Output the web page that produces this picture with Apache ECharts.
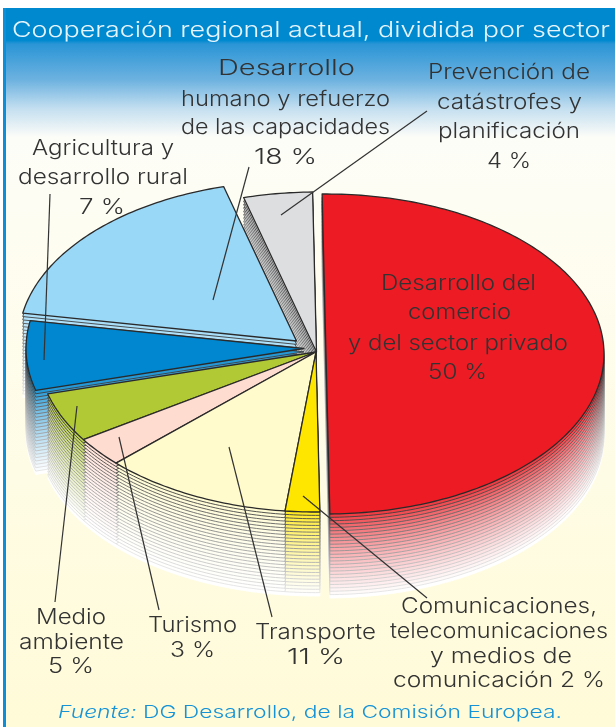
<!DOCTYPE html>
<html><head><meta charset="utf-8">
<style>html,body{margin:0;padding:0;background:#fff}#c{width:615px;height:727px}</style>
<script src="https://cdn.jsdelivr.net/npm/echarts@6/dist/echarts.min.js"></script>
</head><body><div id="c"></div>
<script>
// ---- data ----
const categories = ['Desarrollo del comercio y del sector privado','Comunicaciones, telecomunicaciones y medios de comunicación','Transporte','Turismo','Medio ambiente','Agricultura y desarrollo rural','Desarrollo humano y refuerzo de las capacidades','Prevención de catástrofes y planificación'];
const values = [50,2,11,3,5,7,18,4];
const titleText = 'Cooperación regional actual, dividida por sector';
const sourceItalic = 'Fuente:';
const sourceRest = ' DG Desarrollo, de la Comisión Europea.';

// ---- styles & layout ----
const colors = ['#ed1c24','#ffe600','#fffbcc','#ffdcd0','#b1c935','#0087cf','#9ad8f8','#dcdee0'];
const explode = [[10,2],[0,0],[0,0],[0,0],[0,0],[-12,-3.5],[-19.5,-11],[0.5,0]];
const drawOrder = [7,6,5,4,3,2,1,0];
const PIE = {cx:316,cy:352,rx:278,ry:160,start:-0.8,depth:84,layers:25};
const INK = '#333333', FONT = 'Inter', WEIGHT = '300';
const labelLines = [
 ['Desarrollo del','comercio','y del sector privado','50 %'],
 ['Comunicaciones,','telecomunicaciones','y medios de','comunicación 2 %'],
 ['Transporte','11 %'],
 ['Turismo','3 %'],
 ['Medio','ambiente','5 %'],
 ['Agricultura y','desarrollo rural','7 %'],
 ['Desarrollo','humano y refuerzo','de las capacidades','18 %'],
 ['Prevención de','catástrofes y','planificación','4 %']
];
const labelBoxes = [
 [[381,536,283],[408,511,312],[348,568,343],[428,487,372]],
 [[401,597,606],[390,608,631],[430,572,656],[393,605,680]],
 [[255,376,632],[287,345,657]],
 [[148,237,625],[170,215,650]],
 [[36,106,617],[19,124,642],[48,94,666]],
 [[32,174,148],[18,188,177],[79,125,207]],
 [[218,355,68],[181,390,99],[181,390,127],[254,317,157]],
 [[428,590,72],[437,582,102],[438,580,131],[487,531,161]]
];
const leaders = [
 null,
 [303,496,427,598],[229,447,272,617],[119,437,159,610],[77,406,55,602],
 [44,360,50,194],[213,300,249,167],[281,215,427,111]
];

// ---- helpers ----
const hex = c => [1,3,5].map(i=>parseInt(c.substr(i,2),16));
const mix = (a,b,t)=>{const A=hex(a),B=hex(b);return 'rgb('+A.map((v,i)=>Math.round(v+(B[i]-v)*t)).join(',')+')';};
const measureCtx = document.createElement('canvas').getContext('2d');
function fit(text,width,size){measureCtx.font=WEIGHT+' '+size+'px '+FONT;return width/measureCtx.measureText(text).width;}
function textEl(text,x0,x1,cy,size,fill){
  return {type:'text',z:100,x:(x0+x1)/2,y:cy+1,scaleX:fit(text,x1-x0,size),silent:true,
    style:{text:text,x:0,y:0,align:'center',verticalAlign:'middle',font:WEIGHT+' '+size+'px '+FONT,fill:fill}};
}
const total = values.reduce((a,b)=>a+b,0);
let acc = 0;
const starts = values.map(v=>{const s=acc;acc+=v;return s;});
function wedge(c,a0,a1,dy){
  const pts=[[PIE.cx+c[0],PIE.cy+c[1]+dy]];
  const n=Math.max(2,Math.ceil(a1-a0));
  for(let i=0;i<=n;i++){const a=(a0+(a1-a0)*i/n)*Math.PI/180;
    pts.push([PIE.cx+c[0]+PIE.rx*Math.sin(a),PIE.cy+c[1]+dy-PIE.ry*Math.cos(a)]);}
  return pts;
}

const seriesData = drawOrder.map(i=>({name:categories[i],value:[values[i],starts[i],i]}));
function renderItem(params,api){
  const v=api.value(0),s=api.value(1),idx=api.value(2);
  const a0=PIE.start+s/total*360,a1=a0+v/total*360,children=[];
  for(let l=PIE.layers;l>=0;l--){
    const t=l/PIE.layers;
    children.push({type:'polygon',silent:true,
      shape:{points:wedge(explode[idx],a0,a1,PIE.depth*t)},
      style:{fill:mix(colors[idx],'#ffffff',Math.pow(t,0.6)),stroke:l===PIE.layers?'#ffffff':mix('#2a2a2a','#e8e8e8',Math.pow(t,0.7)),lineWidth:l===0?1.3:0.9,lineJoin:'round'}});
  }
  return {type:'group',children};
}

// ---- graphic ----
const graphic=[
 {type:'rect',z:0,silent:true,shape:{x:4,y:8,width:611,height:719},
  style:{fill:{type:'linear',x:0,y:0,x2:0,y2:1,colorStops:[
    {offset:0,color:'#0089cf'},{offset:0.045,color:'#0089cf'},{offset:0.05,color:'#2a95d6'},
    {offset:0.1,color:'#6db2e0'},{offset:0.14,color:'#c4dff0'},{offset:0.18,color:'#fdfdf8'},
    {offset:0.3,color:'#fefdf2'},{offset:1,color:'#fffbd8'}]}}},
 {type:'rect',z:1,silent:true,shape:{x:3,y:8,width:3,height:719},style:{fill:'#0c8fd8'}},
 textEl(titleText,12,610,29,22,'#e6f5fd'),
];
labelLines.forEach((lines,i)=>lines.forEach((t,j)=>{const b=labelBoxes[i][j];graphic.push(textEl(t,b[0],b[1],b[2],21,INK));}));
leaders.forEach(l=>{if(l)graphic.push({type:'line',z:90,silent:true,shape:{x1:l[0],y1:l[1],x2:l[2],y2:l[3]},style:{stroke:INK,lineWidth:1.2}});});
// source line
const srcSize=17.5, srcX0=58, srcX1=562;
const srcItalicFont='italic '+WEIGHT+' '+srcSize+'px '+FONT, srcFont=WEIGHT+' '+srcSize+'px '+FONT;
measureCtx.font=srcItalicFont; const wI=measureCtx.measureText(sourceItalic).width;
measureCtx.font=srcFont; const wR=measureCtx.measureText(sourceRest).width;
const srcScale=(srcX1-srcX0)/(wI+wR);
graphic.push({type:'text',z:100,silent:true,x:srcX0,y:713,scaleX:srcScale,style:{text:sourceItalic,x:0,y:0,align:'left',verticalAlign:'middle',font:srcItalicFont,fill:'#1593d6'}});
graphic.push({type:'text',z:100,silent:true,x:srcX0+wI*srcScale,y:713,scaleX:srcScale,style:{text:sourceRest,x:0,y:0,align:'left',verticalAlign:'middle',font:srcFont,fill:'#1593d6'}});

const chart=echarts.init(document.getElementById('c'),null,{renderer:'canvas',width:615,height:727});
chart.setOption({animation:false,graphic:graphic,
  series:[{type:'custom',coordinateSystem:'none',z:10,silent:true,renderItem:renderItem,
    encode:{value:0},data:seriesData}]});
</script></body></html>
